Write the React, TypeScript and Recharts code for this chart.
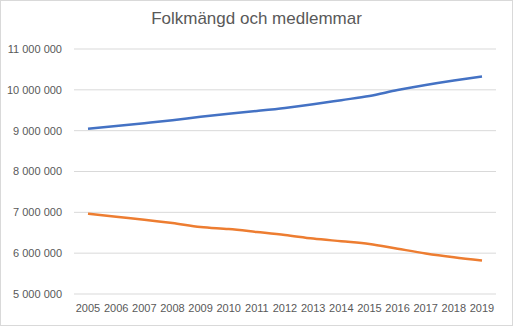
import { LineChart, Line, XAxis, YAxis, CartesianGrid } from 'recharts';

const years = ['2005', '2006', '2007', '2008', '2009', '2010', '2011', '2012', '2013', '2014', '2015', '2016', '2017', '2018', '2019'];
const folkmangd = [9048000, 9113000, 9183000, 9256000, 9341000, 9416000, 9483000, 9556000, 9645000, 9747000, 9851000, 9995000, 10120000, 10230000, 10327000];
const medlemmar = [6967000, 6891000, 6820000, 6737000, 6640000, 6590000, 6519000, 6446000, 6358000, 6292000, 6226000, 6109000, 5994000, 5899000, 5818000];
const yTicks = [5000000, 6000000, 7000000, 8000000, 9000000, 10000000, 11000000];

const data = years.map((year, i) => ({ year, folkmangd: folkmangd[i], medlemmar: medlemmar[i] }));

// non-breaking space as thousands separator so labels don't wrap
const fmt = (v: number) => v.toString().replace(/\B(?=(\d{3})+(?!\d))/g, '\u00A0');

const font = '"Liberation Sans", Arial, sans-serif';
const tickStyle = { fill: '#595959', fontSize: 11, fontFamily: font };

export default function App() {
  return (
    <div
      style={{
        position: 'fixed',
        top: 0,
        left: 0,
        width: 513,
        height: 326,
        background: '#fff',
        boxSizing: 'border-box',
        border: '1px solid #d9d9d9',
      }}
    >
      <div
        style={{
          position: 'absolute',
          top: 8,
          left: 0,
          width: 511,
          textAlign: 'center',
          fontFamily: font,
          fontSize: 17,
          color: '#595959',
        }}
      >
        Folkmängd och medlemmar
      </div>
      <LineChart
        width={511}
        height={324}
        data={data}
        margin={{ top: 48, right: 16, bottom: 6, left: 7 }}
        style={{ position: 'absolute', top: 0, left: 0 }}
      >
        <CartesianGrid vertical={false} stroke="#d9d9d9" />
        <XAxis
          dataKey="year"
          height={25}
          axisLine={false}
          tickLine={false}
          tickSize={0}
          tickMargin={10}
          padding={{ left: 14, right: 14 }}
          interval={0}
          tick={tickStyle}
        />
        <YAxis
          width={66}
          domain={[5000000, 11000000]}
          ticks={yTicks}
          axisLine={false}
          tickLine={false}
          tickSize={0}
          tickMargin={12}
          tickFormatter={fmt}
          tick={tickStyle}
        />
        <Line
          type="monotone"
          dataKey="folkmangd"
          stroke="#4472C4"
          strokeWidth={2.5}
          dot={false}
          isAnimationActive={false}
        />
        <Line
          type="monotone"
          dataKey="medlemmar"
          stroke="#ED7D31"
          strokeWidth={2.5}
          dot={false}
          isAnimationActive={false}
        />
      </LineChart>
    </div>
  );
}
